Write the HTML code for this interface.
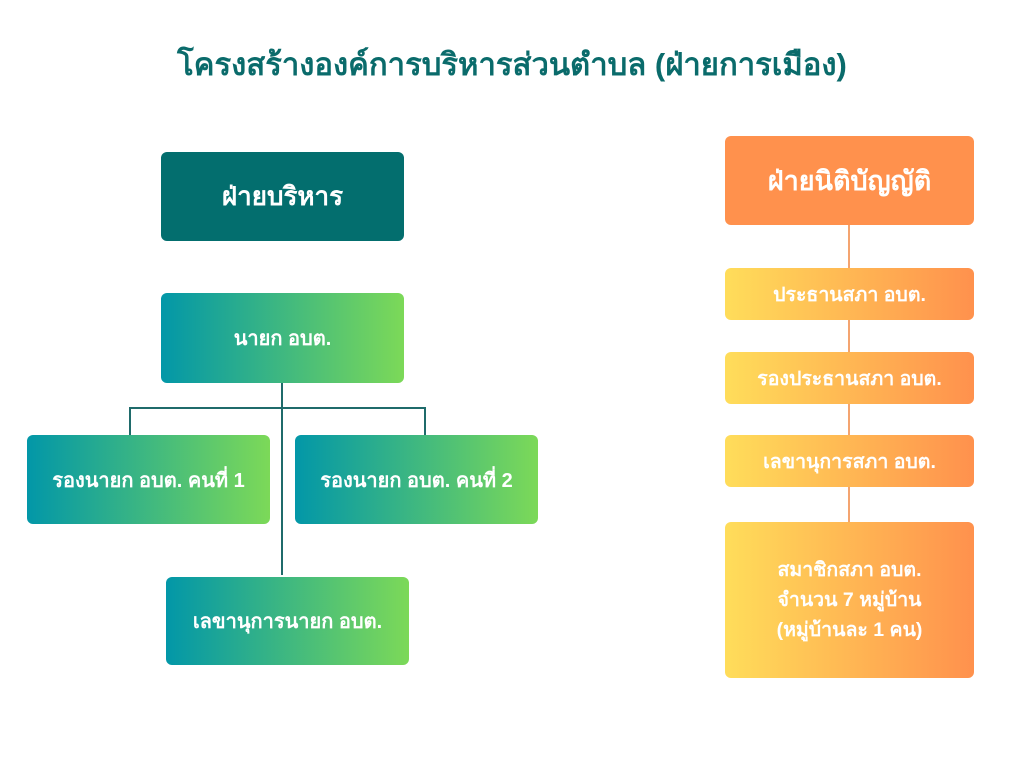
<!DOCTYPE html>
<html><head><meta charset="utf-8"><style>
body{margin:0;width:1024px;height:768px;background:#fff;position:relative;overflow:hidden;font-family:"Liberation Sans","DejaVu Sans","Noto Sans CJK SC",sans-serif;font-weight:bold}
.b{position:absolute;display:flex;align-items:center;justify-content:center;text-align:center;color:#fff;border-radius:6px;box-sizing:border-box}
.g{background:linear-gradient(90deg,#0297a8,#7cd958);font-size:20px}
.o{background:linear-gradient(90deg,#ffdd5a,#ff914d);font-size:19.5px}
.l{position:absolute}
</style></head><body>
<div style="position:absolute;top:39px;left:0;width:1024px;text-align:center;color:#0a6b6b;font-size:31px">โครงสร้างองค์การบริหารส่วนตำบล (ฝ่ายการเมือง)</div>
<div class="b" style="left:161px;top:152px;width:243px;height:89px;background:#036e6e;font-size:26px">ฝ่ายบริหาร</div>
<div class="l" style="left:281px;top:383px;width:2px;height:192px;background:#1f6b6b"></div>
<div class="l" style="left:129px;top:407px;width:297px;height:2px;background:#1f6b6b"></div>
<div class="l" style="left:129px;top:407px;width:2px;height:28px;background:#1f6b6b"></div>
<div class="l" style="left:424px;top:407px;width:2px;height:28px;background:#1f6b6b"></div>
<div class="b g" style="left:161px;top:293px;width:243px;height:90px">นายก อบต.</div>
<div class="b g" style="left:27px;top:435px;width:243px;height:89px">รองนายก อบต. คนที่ 1</div>
<div class="b g" style="left:295px;top:435px;width:243px;height:89px">รองนายก อบต. คนที่ 2</div>
<div class="b g" style="left:166px;top:577px;width:243px;height:88px">เลขานุการนายก อบต.</div>
<div class="l" style="left:848px;top:225px;width:2px;height:297px;background:#f4a470"></div>
<div class="b" style="left:725px;top:136px;width:249px;height:89px;background:#ff914d;font-size:27px">ฝ่ายนิติบัญญัติ</div>
<div class="b o" style="left:725px;top:268px;width:249px;height:52px">ประธานสภา อบต.</div>
<div class="b o" style="left:725px;top:352px;width:249px;height:52px">รองประธานสภา อบต.</div>
<div class="b o" style="left:725px;top:435px;width:249px;height:52px">เลขานุการสภา อบต.</div>
<div class="b o" style="left:725px;top:522px;width:249px;height:156px;line-height:30px">สมาชิกสภา อบต.<br>จำนวน 7 หมู่บ้าน<br>(หมู่บ้านละ 1 คน)</div>
</body></html>
